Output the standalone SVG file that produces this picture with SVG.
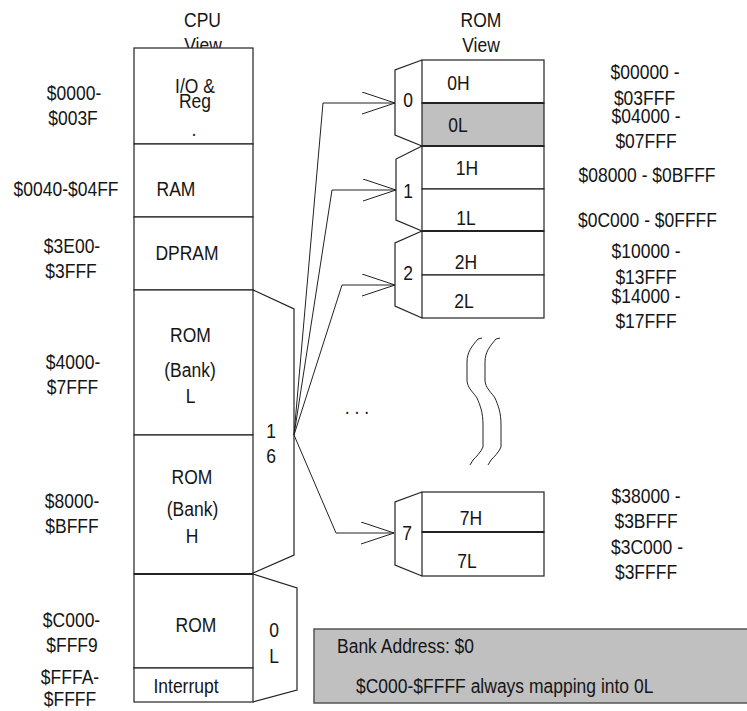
<svg xmlns="http://www.w3.org/2000/svg" width="747" height="711" viewBox="0 0 747 711">
<defs>
<style>
.t{font-family:"Liberation Sans",Arial,Helvetica,sans-serif;font-size:17.5px;fill:#151515;text-anchor:middle}
.s{text-anchor:start}
.box{fill:#fff;stroke:#222;stroke-width:1.2}
.gray{fill:#c0c0c0;stroke:#222;stroke-width:1.2}
.ln{fill:none;stroke:#222;stroke-width:1.2}
.thick{stroke:#222;stroke-width:2}
.con{fill:none;stroke:#222;stroke-width:1}
</style>
<marker id="arr" markerUnits="userSpaceOnUse" markerWidth="36" markerHeight="24" refX="33" refY="11" orient="auto">
<path d="M0,0 L33,11 L0,22" fill="none" stroke="#222" stroke-width="1"/>
</marker>
</defs>
<rect width="747" height="711" fill="#fff"/>

<g id="titles">
<text class="t" transform="matrix(1 0 0 1.2 202.5 27)">CPU</text>
<text class="t" transform="matrix(1 0 0 1.2 203 52)">View</text>
<text class="t" transform="matrix(1 0 0 1.2 481 27)">ROM</text>
<text class="t" transform="matrix(1 0 0 1.2 481 52)">View</text>
</g>

<g id="cpu-io">
<rect class="box" x="134" y="48" width="119" height="96"/>
<text class="t" transform="matrix(1 0 0 1.2 195 93)">I/O &amp;</text>
<text class="t" transform="matrix(1 0 0 1.2 195 108)">Reg</text>
<text class="t" transform="matrix(1 0 0 1.2 194 136)">.</text>
</g>
<g id="cpu-ram">
<rect class="box" x="134" y="144" width="119" height="73"/>
<text class="t" transform="matrix(1 0 0 1.2 176 196)">RAM</text>
</g>
<g id="cpu-dpram">
<rect class="box" x="134" y="217" width="119" height="73"/>
<text class="t" transform="matrix(1 0 0 1.2 187 260)">DPRAM</text>
</g>
<g id="cpu-rom-bank-l">
<rect class="box" x="134" y="290" width="119" height="145"/>
<text class="t" transform="matrix(1 0 0 1.2 190.5 342)">ROM</text>
<text class="t" transform="matrix(1 0 0 1.2 190 377)">(Bank)</text>
<text class="t" transform="matrix(1 0 0 1.2 190.5 403)">L</text>
</g>
<g id="cpu-rom-bank-h">
<rect class="box" x="134" y="435" width="119" height="139"/>
<text class="t" transform="matrix(1 0 0 1.2 192 484)">ROM</text>
<text class="t" transform="matrix(1 0 0 1.2 192.5 516)">(Bank)</text>
<text class="t" transform="matrix(1 0 0 1.2 192 543)">H</text>
</g>
<g id="cpu-rom">
<rect class="box" x="134" y="574" width="119" height="94"/>
<line class="thick" x1="134" y1="574" x2="253" y2="574"/>
<text class="t" transform="matrix(1 0 0 1.2 196 632)">ROM</text>
</g>
<g id="cpu-interrupt">
<rect class="box" x="134" y="668" width="119" height="34"/>
<text class="t" transform="matrix(1 0 0 1.2 186 693)">Interrupt</text>
</g>

<g id="cpu-addresses">
<text class="t" transform="matrix(1 0 0 1.2 74 100)">$0000-</text>
<text class="t" transform="matrix(1 0 0 1.2 73 125)">$003F</text>
<text class="t" transform="matrix(1 0 0 1.2 66 196)">$0040-$04FF</text>
<text class="t" transform="matrix(1 0 0 1.2 72 253)">$3E00-</text>
<text class="t" transform="matrix(1 0 0 1.2 71 278)">$3FFF</text>
<text class="t" transform="matrix(1 0 0 1.2 73 369)">$4000-</text>
<text class="t" transform="matrix(1 0 0 1.2 72.5 394)">$7FFF</text>
<text class="t" transform="matrix(1 0 0 1.2 72 508)">$8000-</text>
<text class="t" transform="matrix(1 0 0 1.2 72 533)">$BFFF</text>
<text class="t" transform="matrix(1 0 0 1.2 71.5 627)">$C000-</text>
<text class="t" transform="matrix(1 0 0 1.2 72 652)">$FFF9</text>
<text class="t" transform="matrix(1 0 0 1.2 70 684)">$FFFA-</text>
<text class="t" transform="matrix(1 0 0 1.2 70 706)">$FFFF</text>
</g>

<g id="bracket-16">
<polyline class="ln" points="253,290 294,309 294,555 253,573"/>
<text class="t" transform="matrix(1 0 0 1.2 271 438)">1</text>
<text class="t" transform="matrix(1 0 0 1.2 271 463)">6</text>
</g>
<g id="bracket-0l">
<polyline class="ln" points="253,574 297,588 297,690 253,702"/>
<text class="t" transform="matrix(1 0 0 1.2 274 637)">0</text>
<text class="t" transform="matrix(1 0 0 1.2 274 663)">L</text>
</g>

<g id="bank-0">
<polyline class="ln" points="422,60 395,70 395,135 422,146"/>
<rect class="box" x="422" y="60" width="122" height="43"/>
<rect class="gray" x="422" y="103" width="122" height="43"/>
<line class="thick" x1="422" y1="103" x2="544" y2="103"/>
<line class="thick" x1="422" y1="146" x2="544" y2="146"/>
<text class="t" transform="matrix(1 0 0 1.2 408 107)">0</text>
<text class="t" transform="matrix(1 0 0 1.2 458.5 90)">0H</text>
<text class="t" transform="matrix(1 0 0 1.2 458 132)">0L</text>
</g>
<g id="bank-1">
<polyline class="ln" points="422,146 396,159 396,220 422,231"/>
<rect class="box" x="422" y="146" width="122" height="43"/>
<rect class="box" x="422" y="189" width="122" height="42"/>
<line class="thick" x1="422" y1="146" x2="544" y2="146"/>
<line class="thick" x1="422" y1="231" x2="544" y2="231"/>
<text class="t" transform="matrix(1 0 0 1.2 408 198)">1</text>
<text class="t" transform="matrix(1 0 0 1.2 467 175)">1H</text>
<text class="t" transform="matrix(1 0 0 1.2 466 225)">1L</text>
</g>
<g id="bank-2">
<polyline class="ln" points="422,231 395,243 395,306 422,318"/>
<rect class="box" x="422" y="231" width="122" height="44"/>
<rect class="box" x="422" y="275" width="122" height="43"/>
<line class="thick" x1="422" y1="231" x2="544" y2="231"/>
<text class="t" transform="matrix(1 0 0 1.2 408 280)">2</text>
<text class="t" transform="matrix(1 0 0 1.2 466 269)">2H</text>
<text class="t" transform="matrix(1 0 0 1.2 464 308)">2L</text>
</g>
<g id="bank-7">
<polyline class="ln" points="422,492 395,502 395,565 422,576"/>
<rect class="box" x="422" y="492" width="122" height="40"/>
<rect class="box" x="422" y="532" width="122" height="44"/>
<line class="thick" x1="422" y1="532" x2="544" y2="532"/>
<text class="t" transform="matrix(1 0 0 1.2 407 540)">7</text>
<text class="t" transform="matrix(1 0 0 1.2 471 525)">7H</text>
<text class="t" transform="matrix(1 0 0 1.2 467 568)">7L</text>
</g>

<g id="rom-addresses">
<text class="t" transform="matrix(1 0 0 1.2 645 79)">$00000 -</text>
<text class="t" transform="matrix(1 0 0 1.2 644.5 105)">$03FFF</text>
<text class="t" transform="matrix(1 0 0 1.2 646 123)">$04000 -</text>
<text class="t" transform="matrix(1 0 0 1.2 646 148)">$07FFF</text>
<text class="t" transform="matrix(1 0 0 1.2 647 182)">$08000 - $0BFFF</text>
<text class="t" transform="matrix(1 0 0 1.2 647.5 227)">$0C000 - $0FFFF</text>
<text class="t" transform="matrix(1 0 0 1.2 646 258)">$10000 -</text>
<text class="t" transform="matrix(1 0 0 1.2 646 284)">$13FFF</text>
<text class="t" transform="matrix(1 0 0 1.2 646 303)">$14000 -</text>
<text class="t" transform="matrix(1 0 0 1.2 646 328)">$17FFF</text>
<text class="t" transform="matrix(1 0 0 1.2 646 503)">$38000 -</text>
<text class="t" transform="matrix(1 0 0 1.2 646 528)">$3BFFF</text>
<text class="t" transform="matrix(1 0 0 1.2 647 554)">$3C000 -</text>
<text class="t" transform="matrix(1 0 0 1.2 646 579)">$3FFFF</text>
</g>

<g id="connectors">
<polyline class="con" points="294,435 323,103 395,103" marker-end="url(#arr)"/>
<polyline class="con" points="294,435 332,190 396,190" marker-end="url(#arr)"/>
<polyline class="con" points="294,435 342,285 395,285" marker-end="url(#arr)"/>
<polyline class="con" points="294,435 336,533 394,533" marker-end="url(#arr)"/>
</g>

<g id="gap-break">
<text class="t" transform="matrix(1 0 0 1.2 357 414)">. . .</text>
<path class="con" d="M482,338 L478,339 C472,346 467,352 467,362 L467,380 C467,388 474,393 477,398 C480,405 483,412 483,425 L483,447 C481,452 476,457 473,460 L470,465"/>
<path class="con" d="M500,338 L496,339 C490,346 485,352 485,362 L485,380 C485,388 492,393 495,398 C498,405 501,412 501,425 L501,447 C499,452 494,457 491,460 L488,465"/>
</g>

<g id="bank-address-note">
<rect x="314" y="629" width="440" height="74" fill="#c0c0c0" stroke="#555" stroke-width="1.5"/>
<text class="t s" transform="matrix(1 0 0 1.2 337 653)">Bank Address: $0</text>
<text class="t s" transform="matrix(1 0 0 1.2 356 693)">$C000-$FFFF always mapping into 0L</text>
</g>
</svg>
